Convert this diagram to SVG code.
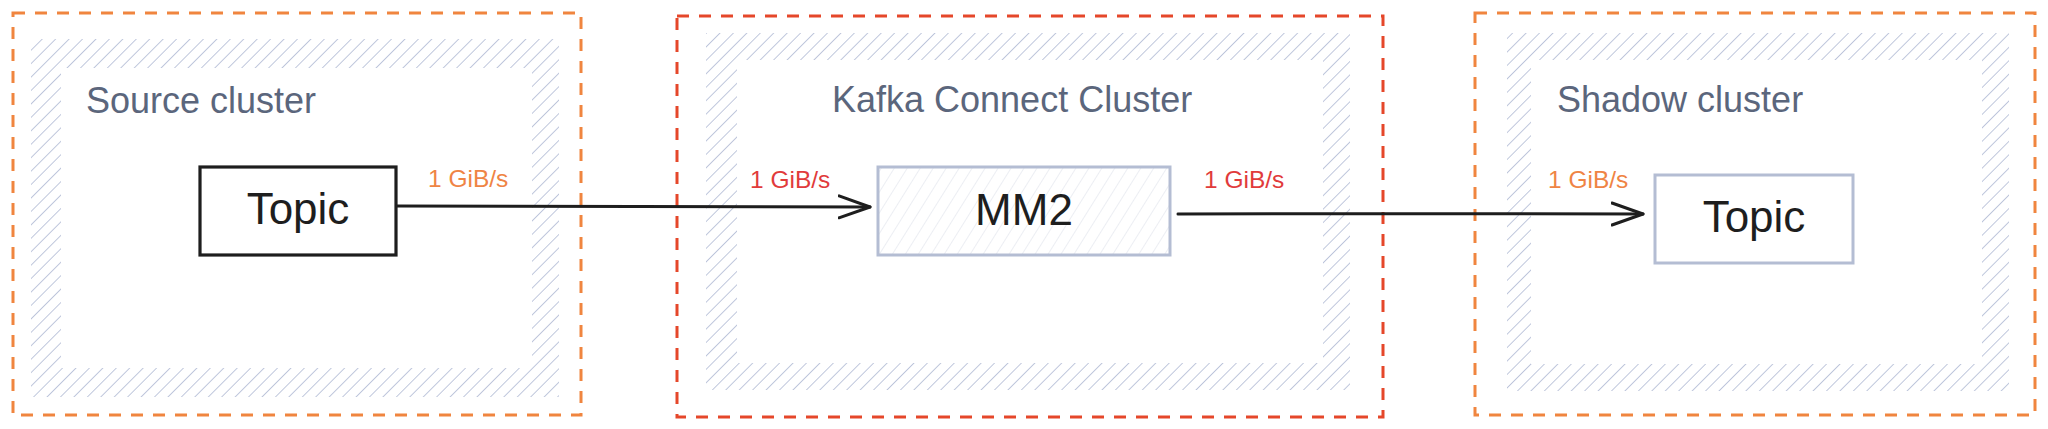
<svg xmlns="http://www.w3.org/2000/svg" width="2048" height="429" viewBox="0 0 2048 429">
  <defs>
    <pattern id="hatch" patternUnits="userSpaceOnUse" width="9.5" height="9.5" patternTransform="rotate(45)">
      <line x1="0" y1="0" x2="0" y2="9.5" stroke="#b9c2d9" stroke-width="1.8"/>
    </pattern>
    <pattern id="hatchLight" patternUnits="userSpaceOnUse" width="11" height="11" patternTransform="rotate(32)">
      <line x1="0" y1="0" x2="0" y2="11" stroke="#e2e5ec" stroke-width="1.3"/>
    </pattern>
    <marker id="chev" viewBox="0 0 34 26" refX="32" refY="13" markerWidth="34" markerHeight="26" markerUnits="userSpaceOnUse" orient="auto">
      <path d="M1,2 L32,13 L1,24" fill="none" stroke="#1e1e1e" stroke-width="3" stroke-linecap="round" stroke-linejoin="round"/>
    </marker>
  </defs>
  <style>
    .outer-orange { fill: none; stroke: #f0853f; stroke-width: 3; stroke-dasharray: 12 10; }
    .outer-red { fill: none; stroke: #e5472a; stroke-width: 3; stroke-dasharray: 12 10; }
    .frame { fill: url(#hatch); fill-rule: evenodd; stroke: none; }
    .cluster-label { font-family: "Liberation Sans", Arial, sans-serif; font-size: 36px; fill: #5b667c; }
    .node-text { font-family: "Liberation Sans", Arial, sans-serif; font-size: 44px; fill: #1e1e1e; text-anchor: middle; }
    .rate-orange { font-family: "Liberation Sans", Arial, sans-serif; font-size: 24.5px; fill: #ef8444; }
    .rate-red { font-family: "Liberation Sans", Arial, sans-serif; font-size: 24.5px; fill: #e13b3b; }
    .conn { fill: none; stroke: #1e1e1e; stroke-width: 3; stroke-linecap: round; marker-end: url(#chev); }
  </style>

  <g id="source-cluster">
    <rect class="outer-orange" x="13" y="13" width="568" height="402"/>
    <path class="frame" d="M31,39 H559 V397 H31 Z M61,68 V368 H532 V68 Z"/>
    <text class="cluster-label" x="86" y="113">Source cluster</text>
  </g>

  <g id="kafka-connect-cluster">
    <rect class="outer-red" x="677" y="16" width="706" height="401"/>
    <path class="frame" d="M706,33 H1350 V390 H706 Z M737,60 V363 H1323 V60 Z"/>
    <text class="cluster-label" x="832" y="112">Kafka Connect Cluster</text>
  </g>

  <g id="shadow-cluster">
    <rect class="outer-orange" x="1475" y="13" width="560" height="402"/>
    <path class="frame" d="M1507,33 H2009 V391 H1507 Z M1531,60 V364 H1982 V60 Z"/>
    <text class="cluster-label" x="1557" y="112">Shadow cluster</text>
  </g>

  <g id="source-topic">
    <rect x="200" y="167" width="196" height="88" fill="#ffffff" stroke="#1e1e1e" stroke-width="3.2"/>
    <text class="node-text" x="298" y="224">Topic</text>
  </g>

  <g id="mm2">
    <rect x="878" y="167" width="292" height="88" fill="url(#hatchLight)" stroke="#b4bdd3" stroke-width="3"/>
    <text class="node-text" x="1024" y="225">MM2</text>
  </g>

  <g id="shadow-topic">
    <rect x="1655" y="175" width="198" height="88" fill="#ffffff" stroke="#b4bdd3" stroke-width="3"/>
    <text class="node-text" x="1754" y="232">Topic</text>
  </g>

  <g id="connectors">
    <path class="conn" d="M397,206 C560,206 720,206 870,207"/>
    <path class="conn" d="M1178,214 C1330,213 1490,214 1643,214"/>
    <text class="rate-orange" x="428" y="187">1 GiB/s</text>
    <text class="rate-red" x="750" y="188">1 GiB/s</text>
    <text class="rate-red" x="1204" y="188">1 GiB/s</text>
    <text class="rate-orange" x="1548" y="188">1 GiB/s</text>
  </g>
</svg>
